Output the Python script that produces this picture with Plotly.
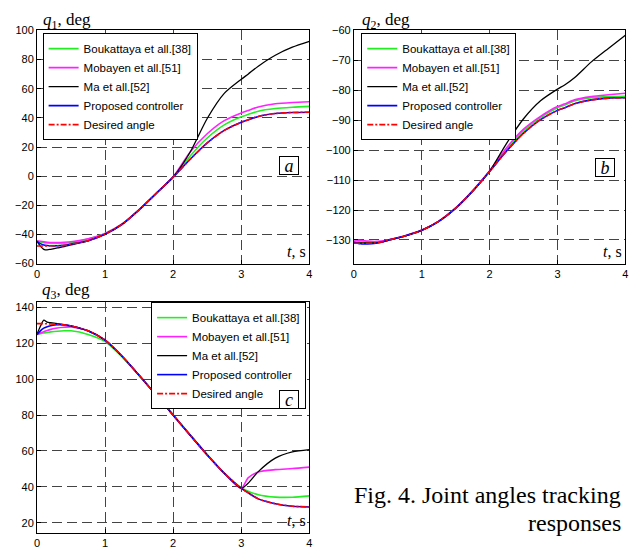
import plotly.graph_objects as go

# ---------------- data ----------------
t = [0, 0.05, 0.1, 0.15, 0.2, 0.3, 0.4, 0.5, 0.75, 1.0, 1.25, 1.5, 1.75, 2.0,
     2.25, 2.5, 2.75, 3.0, 3.1, 3.25, 3.5, 3.75, 4.0]

series_names = ["Boukattaya et all.[38]", "Mobayen et all.[51]", "Ma et all.[52]",
                "Proposed controller", "Desired angle"]

# q1 (panel a)
q1_bouk = [-44.8, -45.2, -45.6, -45.9, -46.1, -46.2, -46, -45.5, -43.2, -39.4, -32.8, -22.9, -11.8, -0.6,
           13.9, 26.2, 35.2, 40.8, 42.3, 44.6, 46.4, 47.3, 47.9]
q1_moba = [-44.3, -44.7, -45.1, -45.4, -45.5, -45.6, -45.4, -45, -43, -39.3, -32.8, -22.9, -11.8, -0.5,
           16.6, 29.1, 38.1, 43.4, 45, 47.5, 49.7, 50.6, 51.1]
q1_ma = [-44.8, -48, -50.2, -50.6, -50.2, -49.3, -48.4, -47.2, -44.4, -39.9, -33.1, -23.1, -11.9, -0.6,
         16.6, 39.6, 56.8, 66.5, 70, 75.5, 83, 88.5, 92.5]
q1_prop = [-44.8, -46.3, -47.2, -47.6, -47.8, -47.8, -47.5, -46.6, -44.3, -39.9, -33.1, -23.1, -11.9, -0.7,
           11.6, 22.8, 31.4, 37, 38.6, 41, 43, 43.7, 43.9]
q1_des = [-47.9, -47.9, -47.9, -47.9, -47.8, -47.8, -47.5, -46.6, -44.3, -39.9, -33.1, -23.1, -11.9, -0.7,
          11.6, 22.8, 31.4, 37, 38.6, 41, 43, 43.7, 43.9]

# q2 (panel b)
q2_bouk = [-130.5, -130.6, -130.7, -130.8, -130.8, -130.8, -130.6, -130.1, -128.7, -126.8, -123.8, -119.4, -113.7, -107.1,
           -99.8, -93.5, -89.1, -85.8, -85, -83.6, -82.5, -82.1, -82]
q2_moba = [-130, -130.1, -130.2, -130.3, -130.4, -130.5, -130.4, -130, -128.6, -126.7, -123.7, -119.3, -113.5, -106.9,
           -99.2, -93, -88.7, -85.4, -84.6, -83.2, -82.1, -81.5, -81]
q2_ma = [-131, -131, -131, -131, -131, -131, -130.8, -130.2, -128.7, -126.8, -123.8, -119.4, -113.7, -107,
         -97.7, -89.5, -83.5, -79.6, -78.3, -75.8, -70.5, -66, -61.6]
q2_prop = [-130.8, -131.1, -131.3, -131.3, -131.3, -131.2, -130.8, -130.1, -128.7, -126.8, -123.8, -119.4, -113.7, -107.1,
           -100.3, -94.3, -89.8, -86.7, -85.9, -84.5, -83.2, -82.6, -82.5]
q2_des = [-131.1, -131.1, -131.1, -131.1, -131.1, -131, -130.7, -130.1, -128.7, -126.8, -123.8, -119.4, -113.7, -107.1,
          -100.3, -94.3, -89.8, -86.7, -85.9, -84.5, -83.2, -82.6, -82.5]

# q3 (panel c)
q3_bouk = [125, 125.4, 125.8, 126.1, 126.4, 126.8, 127, 127, 125, 121, 112.5, 102, 91.2, 80.2,
           69, 58, 47.8, 39.4, 37.6, 35.6, 34.3, 34.2, 35]
q3_moba = [125, 125.8, 126.5, 127.2, 127.8, 128.6, 129, 129.2, 127, 121.8, 112.8, 102.2, 91.2, 80,
           68.8, 57.8, 47.6, 39.2, 45, 48.3, 49.6, 50.2, 51]
q3_ma = [125, 129.5, 133, 131.8, 131.5, 131, 130.5, 129.8, 127, 121.8, 112.8, 102.2, 91.2, 80,
         68.8, 57.8, 47.6, 39.2, 42, 48.5, 56, 59.5, 60.8]
q3_prop = [125, 127, 128.5, 129.3, 129.8, 130.4, 130.3, 129.7, 127, 121.8, 112.8, 102.2, 91.2, 80,
           68.8, 57.8, 47.6, 39.2, 36.7, 33.3, 30.6, 29.2, 28.8]
q3_des = [131, 131, 131, 130.9, 130.8, 130.6, 130.3, 129.7, 127, 121.8, 112.8, 102.2, 91.2, 80,
          68.8, 57.8, 47.6, 39.2, 36.7, 33.3, 30.6, 29.2, 28.8]

x_ticks = [0, 1, 2, 3, 4]
q1_ticks = [-60, -40, -20, 0, 20, 40, 60, 80, 100]
q2_ticks = [-130, -120, -110, -100, -90, -80, -70, -60]
q3_ticks = [20, 40, 60, 80, 100, 120, 140]

panels = [
    dict(data=[q1_bouk, q1_moba, q1_ma, q1_prop, q1_des], xa="x", ya="y", legend="legend",
         label="a", sub="1", ticks=q1_ticks),
    dict(data=[q2_bouk, q2_moba, q2_ma, q2_prop, q2_des], xa="x2", ya="y2", legend="legend2",
         label="b", sub="2", ticks=q2_ticks),
    dict(data=[q3_bouk, q3_moba, q3_ma, q3_prop, q3_des], xa="x3", ya="y3", legend="legend3",
         label="c", sub="3", ticks=q3_ticks),
]

# ---------------- styles ----------------
colors = ["#22ee22", "#ff22ff", "#000000", "#0000ff", "#ff0000"]
dashes = ["solid", "solid", "solid", "solid", "6px,2px,2px,2px"]
widths = [1.6, 1.6, 1.3, 1.6, 1.6]

W, H = 632, 552
fig = go.Figure()

for p in panels:
    for name, ys, c, d, w in zip(series_names, p["data"], colors, dashes, widths):
        fig.add_trace(go.Scatter(
            x=t, y=ys, name=name, mode="lines",
            line=dict(color=c, dash=d, width=w, shape="spline", smoothing=0.7),
            xaxis=p["xa"], yaxis=p["ya"], legend=p["legend"], showlegend=True))

def px_x(v):
    return v / W

def px_y(v):
    return 1 - v / H

axis_common = dict(
    showline=True, linecolor="black", linewidth=1, mirror=True,
    ticks="inside", ticklen=4, tickcolor="black",
    showgrid=True, gridcolor="#444444", griddash="10px,5px", gridwidth=1,
    zeroline=False,
    tickfont=dict(family="Liberation Sans, Arial", size=11, color="black"),
)

dom_x_left = [px_x(34.3), px_x(309.3)]
dom_x_right = [px_x(354.3), px_x(628.3)]
dom_y_top = [px_y(263.3), px_y(25)]
dom_y_bot = [px_y(538.3), px_y(302.7)]

fig.update_layout(
    xaxis=dict(domain=dom_x_left, range=[0, 4], tickvals=x_ticks, anchor="y", **axis_common),
    yaxis=dict(domain=dom_y_top, range=[-60, 100], tickvals=q1_ticks, anchor="x", **axis_common),
    xaxis2=dict(domain=dom_x_right, range=[0, 4], tickvals=x_ticks, anchor="y2", **axis_common),
    yaxis2=dict(domain=dom_y_top, range=[-137.9, -60], tickvals=q2_ticks, anchor="x2", **axis_common),
    xaxis3=dict(domain=dom_x_left, range=[0, 4], tickvals=x_ticks, anchor="y3", **axis_common),
    yaxis3=dict(domain=dom_y_bot, range=[14.5, 143], tickvals=q3_ticks, anchor="x3", **axis_common),
)

leg_common = dict(
    bgcolor="white", bordercolor="black", borderwidth=1,
    font=dict(family="Liberation Sans, Arial", size=11.5, color="black"),
    itemwidth=30, tracegroupgap=0,
    xanchor="left", yanchor="top",
)
fig.update_layout(
    legend=dict(x=px_x(40), y=px_y(27.7), **leg_common),
    legend2=dict(x=px_x(361.7), y=px_y(27.7), **leg_common),
    legend3=dict(**{**leg_common, "xanchor": "right"}, x=px_x(306), y=px_y(302.7)),
)

annotations = []
serif = "Liberation Serif, Times New Roman, serif"
for p, (xl, yb) in zip(panels, [(38, 15.5), (360, 15.5), (37, 291)]):
    annotations.append(dict(
        text=f"<i>q</i><sub>{p['sub']}</sub>, deg", xref="paper", yref="paper",
        x=px_x(xl), y=px_y(yb), xanchor="left", yanchor="middle", showarrow=False,
        font=dict(family=serif, size=17, color="black")))
    annotations.append(dict(
        text="<i>t</i>, s", xref=f"{p['xa']} domain", yref=f"{p['ya']} domain",
        x=0.995, y=0.005, xanchor="right", yanchor="bottom", showarrow=False,
        font=dict(family=serif, size=16, color="black")))
    annotations.append(dict(
        text=f"<i>{p['label']}</i>", xref=f"{p['xa']} domain", yref=f"{p['ya']} domain",
        x=0.9265, y={"a": 0.419, "b": 0.414, "c": 0.577}[p["label"]],
        xanchor="center", yanchor="middle", showarrow=False,
        width=16, height=15, align="center", valign="middle",
        bordercolor="black", borderwidth=1, bgcolor="white", borderpad=1,
        font=dict(family=serif, size=18, color="black")))

annotations.append(dict(
    text="Fig. 4. Joint angles tracking", xref="paper", yref="paper",
    x=px_x(626), y=px_y(500), xanchor="right", yanchor="middle", showarrow=False,
    font=dict(family=serif, size=24, color="black")))
annotations.append(dict(
    text="responses", xref="paper", yref="paper",
    x=px_x(626), y=px_y(528), xanchor="right", yanchor="middle", showarrow=False,
    font=dict(family=serif, size=24, color="black")))

fig.update_layout(
    width=W, height=H,
    margin=dict(l=0, r=0, t=0, b=0),
    paper_bgcolor="white", plot_bgcolor="white",
    annotations=annotations,
    showlegend=True,
)

fig.write_html("out.html",
               config={"displayModeBar": False},
               post_script="document.body.style.margin='0';document.body.style.overflow='hidden';")
